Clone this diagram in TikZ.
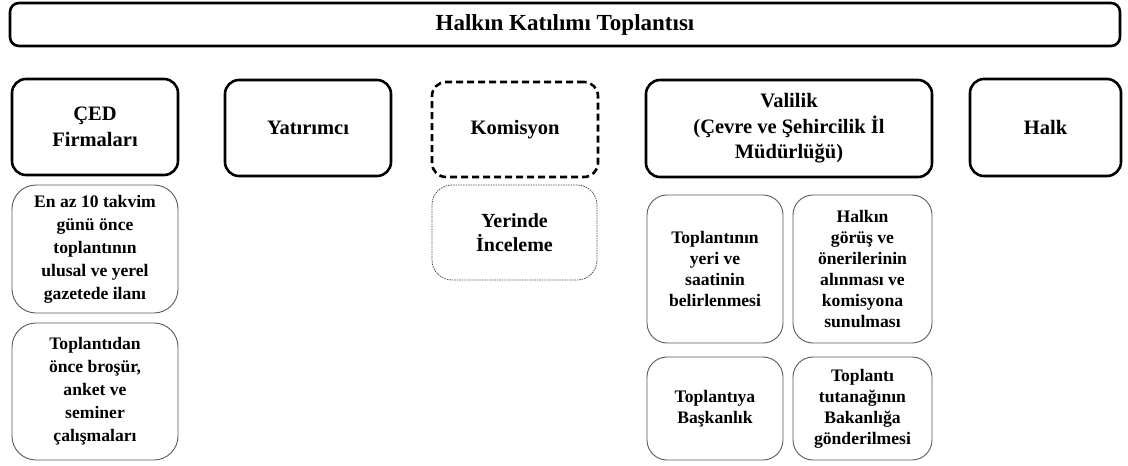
\documentclass[tikz,border=0pt]{standalone}
\usepackage{fontspec}
\setmainfont{Liberation Serif}
\begin{document}
\begin{tikzpicture}[x=1pt,y=-1pt,
  hdr/.style={draw=black, line width=2.6pt, rounded corners=14pt, align=center,
    font=\bfseries\fontsize{20.5}{25.5}\selectfont, inner sep=0pt},
  sub/.style={draw=black!65, line width=0.9pt, rounded corners=20pt, align=center,
    font=\bfseries\fontsize{17.6}{21}\selectfont, inner sep=0pt}
]
\useasboundingbox (0,0) rectangle (1128,466);
\node[hdr, rounded corners=9pt, minimum width=1110, minimum height=43,
  font=\bfseries\fontsize{23}{27}\selectfont] (title) at (565,24.5) {Halkın Katılımı Toplantısı};
\node[hdr, minimum width=166, minimum height=96] (ced) at (95,127) {ÇED\\Firmaları};
\node[hdr, minimum width=166, minimum height=96] (yat) at (308,128) {Yatırımcı};
\node[hdr, dashed, dash pattern=on 7pt off 4pt, minimum width=166, minimum height=95] (kom) at (515,129.5) {Komisyon};
\node[hdr, minimum width=286, minimum height=97] (val) at (789,128.5) {Valilik\\(Çevre ve Şehircilik İl\\Müdürlüğü)};
\node[hdr, minimum width=151, minimum height=97] (halk) at (1045.5,127.5) {Halk};

\node[sub, rounded corners=24pt, minimum width=166, minimum height=128,
  font=\bfseries\fontsize{17.6}{23}\selectfont] (ced1) at (95,249)
  {En az 10 takvim\\günü önce\\toplantının\\ulusal ve yerel\\gazetede ilanı};
\node[sub, rounded corners=24pt, minimum width=166, minimum height=137,
  font=\bfseries\fontsize{17.6}{23}\selectfont] (ced2) at (95,391.5)
  {Toplantıdan\\önce broşür,\\anket ve\\seminer\\çalışmaları};
\node[sub, draw=black!70, line width=0.8pt, dash pattern=on 1.5pt off 1pt, minimum width=165, minimum height=95,
  font=\bfseries\fontsize{20}{23.5}\selectfont] (yer) at (514.5,232.5) {Yerinde\\İnceleme};
\node[sub, minimum width=136, minimum height=148] (v1) at (715,269)
  {Toplantının\\yeri ve\\saatinin\\belirlenmesi};
\node[sub, minimum width=139, minimum height=148] (v2) at (862.5,269)
  {Halkın\\görüş ve\\önerilerinin\\alınması ve\\komisyona\\sunulması};
\node[sub, minimum width=136, minimum height=103] (v3) at (715,408.5)
  {Toplantıya\\Başkanlık};
\node[sub, minimum width=139, minimum height=103] (v4) at (862.5,408.5)
  {Toplantı\\tutanağının\\Bakanlığa\\gönderilmesi};
\end{tikzpicture}
\end{document}
